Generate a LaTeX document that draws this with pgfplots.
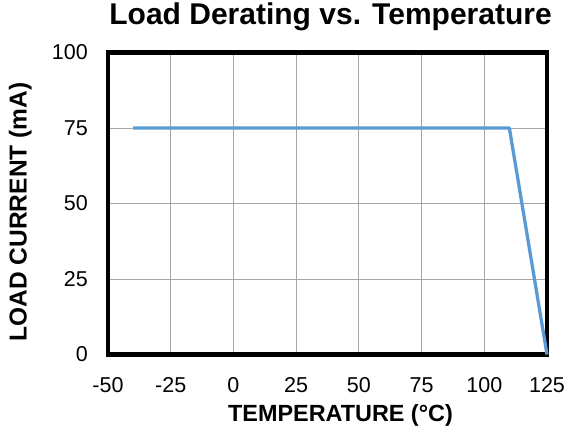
\documentclass[border=0pt]{standalone}
\usepackage{pgfplots}
\pgfplotsset{compat=1.18}
\usepackage{fontspec}
\setmainfont{Liberation Sans}
\definecolor{lineblue}{HTML}{5B9BD5}
\definecolor{gridgray}{HTML}{A6A6A6}
\begin{document}
\begin{tikzpicture}
\useasboundingbox (-108bp,-76.5bp) rectangle (461bp,354.5bp);
\begin{axis}[
  at={(0,0)}, anchor=south west,
  scale only axis,
  width=439bp, height=302bp,
  xmin=-50, xmax=125, ymin=0, ymax=100,
  xtick={-50,-25,0,25,50,75,100,125},
  ytick={0,25,50,75,100},
  major tick length=0pt,
  grid=major,
  major grid style={gridgray, line width=0.8bp},
  axis line style={black, line width=4.5bp},
  /pgf/number format/assume math mode=true,
  ticklabel style={font=\fontsize{21.5bp}{24bp}\selectfont, inner sep=0pt},
  xticklabel style={anchor=base, yshift=-37.5bp},
  yticklabel style={anchor=east, xshift=-20bp},
  every axis title shift=0pt,
  title={Load Derating vs. Temperature},
  title style={font=\fontsize{30bp}{34bp}\selectfont\bfseries, at={(axis description cs:0.507,1.0911)}, anchor=base, inner sep=0pt},
  xlabel={TEMPERATURE (°C)},
  xlabel style={font=\fontsize{23.4bp}{26bp}\selectfont\bfseries, at={(axis description cs:0.5296,-0.2225)}, anchor=base, inner sep=0pt},
  ylabel={LOAD CURRENT (mA)},
  ylabel style={font=\fontsize{24.5bp}{27bp}\selectfont\bfseries, at={(axis description cs:-0.1852,0.4719)}, anchor=base, rotate=0, inner sep=0pt},
  clip=false,
]
\addplot[lineblue, line width=3.3bp, line join=round] coordinates {(-40,75) (110,75) (125,0)};
\end{axis}
\end{tikzpicture}
\end{document}
